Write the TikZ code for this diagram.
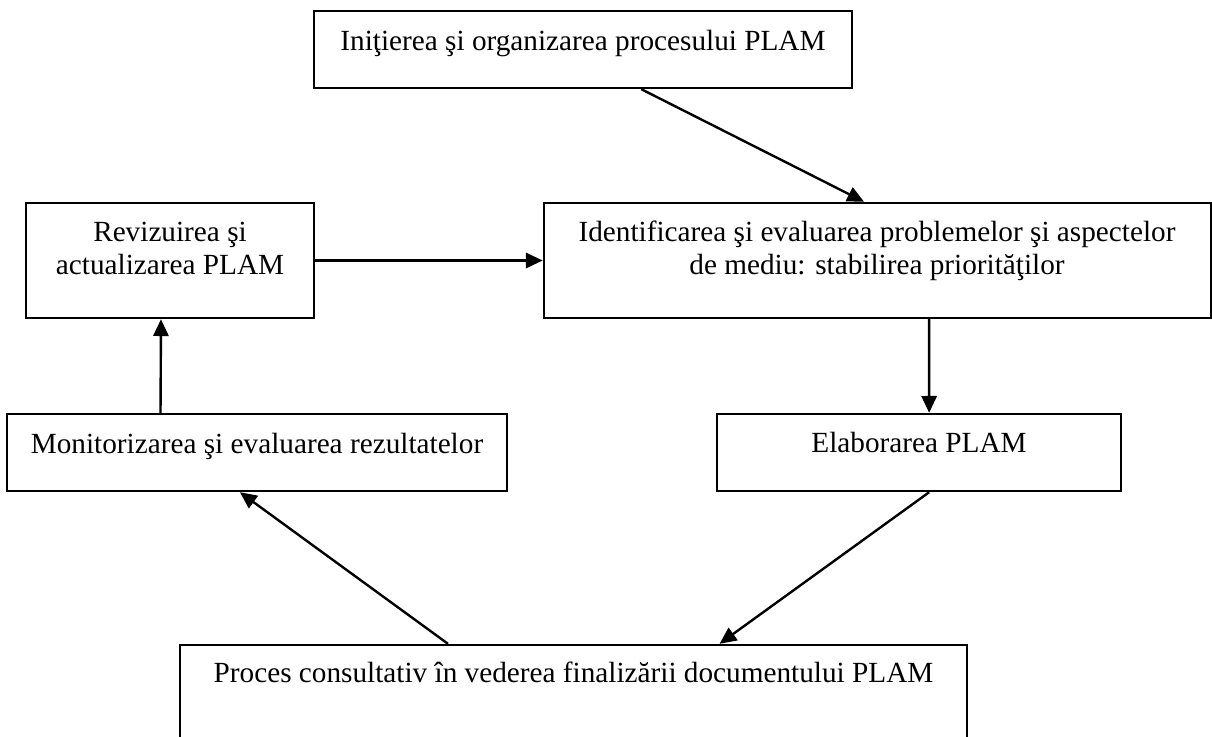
\documentclass[tikz,border=0pt]{standalone}
\usepackage{fontspec}
\setmainfont{Liberation Serif}
\usetikzlibrary{arrows.meta,calc}
\begin{document}
\begin{tikzpicture}[x=0.025cm, y=-0.025cm,
  box/.style={draw, line width=1.7pt, rectangle, inner sep=0pt},
  lbl/.style={font=\fontsize{20.8}{24}\selectfont, inner sep=0pt, anchor=base},
  arr/.style={-{Triangle[length=0.42cm,width=0.38cm]}, line width=1.7pt}]
\clip (0,0) rectangle (1212,737);
% boxes
\node[box, minimum width=13.45cm, minimum height=1.925cm] (A) at (583,49.5) {};
\node[box, minimum width=7.2cm, minimum height=2.875cm] (B) at (170,260.5) {};
\node[box, minimum width=16.675cm, minimum height=2.875cm] (C) at (877.5,260.5) {};
\node[box, minimum width=12.5cm, minimum height=1.925cm] (D) at (257,452.5) {};
\node[box, minimum width=10.1cm, minimum height=1.925cm] (E) at (919,452.5) {};
\node[box, minimum width=19.675cm, minimum height=3.125cm] (F) at (573.5,707.5) {};
% texts
\node[lbl] (tA) at (583,50) {Iniţierea şi organizarea procesului PLAM};
\node[lbl] (tB) at (170,241) {\begin{tabular}[t]{@{}c@{}}Revizuirea şi\\actualizarea PLAM\end{tabular}};
\node[lbl] (tC) at (877,241) {\begin{tabular}[t]{@{}c@{}}Identificarea şi evaluarea problemelor şi aspectelor\\de mediu: stabilirea priorităţilor\end{tabular}};
\node[lbl] (tD) at (257,453) {Monitorizarea şi evaluarea rezultatelor};
\node[lbl] (tE) at (919,452) {Elaborarea PLAM};
\node[lbl] (tF) at (573.5,682) {Proces consultativ în vederea finalizării documentului PLAM};
% connectors
\draw[arr] ($(A.south west)!0.608!(A.south east)$) -- ($(C.north west)!0.480!(C.north east)$);
\draw[arr] (B.east) -- (C.west);
\draw[arr] ($(C.south west)!0.577!(C.south east)$) -- ($(E.north west)!0.525!(E.north east)$);
\draw[arr] ($(E.south west)!0.525!(E.south east)$) -- ($(F.north west)!0.685!(F.north east)$);
\draw[arr] ($(F.north west)!0.341!(F.north east)$) -- ($(D.south west)!0.466!(D.south east)$);
\draw[arr] ($(D.north west)!0.308!(D.north east)$) -- ($(B.south west)!0.469!(B.south east)$);
\end{tikzpicture}
\end{document}
